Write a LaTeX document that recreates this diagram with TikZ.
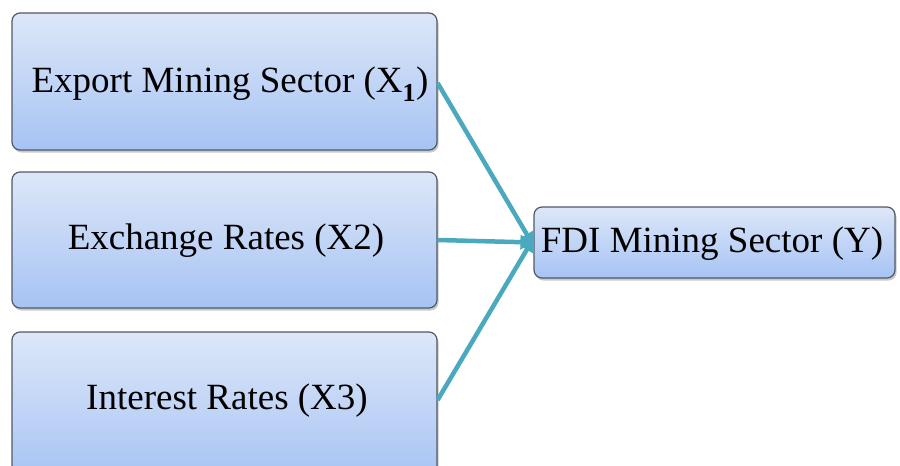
\documentclass[tikz,border=0pt]{standalone}
\usepackage{fontspec}
\setmainfont{Liberation Serif}
\usetikzlibrary{arrows.meta,shadows}
\definecolor{boxtop}{HTML}{DDE7F8}
\definecolor{boxbot}{HTML}{A6C3F4}
\definecolor{boxline}{HTML}{505A66}
\definecolor{conn}{HTML}{4AA9BE}
\tikzset{
  fbox/.style={draw=boxline, line width=1.2pt, rounded corners=8pt,
    top color=boxtop, bottom color=boxbot,
    drop shadow={shadow xshift=1.5pt, shadow yshift=-2.5pt, fill=black!35, opacity=0.6},
    inner sep=0pt},
  lbl/.style={font=\fontsize{37}{40}\selectfont, inner sep=0pt},
  conn/.style={draw=conn, line width=4.5pt, -{Triangle[length=13pt,width=14pt]}}
}
\begin{document}
\begin{tikzpicture}[x=1pt,y=-1pt]
\useasboundingbox (0,0) rectangle (900,466);
\clip (0,0) rectangle (900,466);
\fill[white] (0,0) rectangle (900,466);
\node[fbox, minimum width=425pt, minimum height=137pt] (a) at (224.5,81.5) {};
\node[fbox, minimum width=425pt, minimum height=136pt] (b) at (224.5,240) {};
\node[fbox, minimum width=425pt, minimum height=150pt] (c) at (224.5,407) {};
\node[fbox, minimum width=361pt, minimum height=71pt] (y) at (714.5,242.5) {};
\node[lbl] (at) at (230,84) {Export Mining Sector (X$_\mathbf{1}$)};
\node[lbl] (bt) at (226,241) {Exchange Rates (X2)};
\node[lbl] (ct) at (227,401) {Interest Rates (X3)};
\node[lbl] (yt) at (712,244) {FDI Mining Sector (Y)};
\draw[conn] (a.east |- 0,83) -- ([yshift=-3pt]y.west);
\draw[conn] (b.east) -- (y.west);
\draw[conn] (c.east |- 0,400) -- ([yshift=4pt]y.west);
\end{tikzpicture}
\end{document}
